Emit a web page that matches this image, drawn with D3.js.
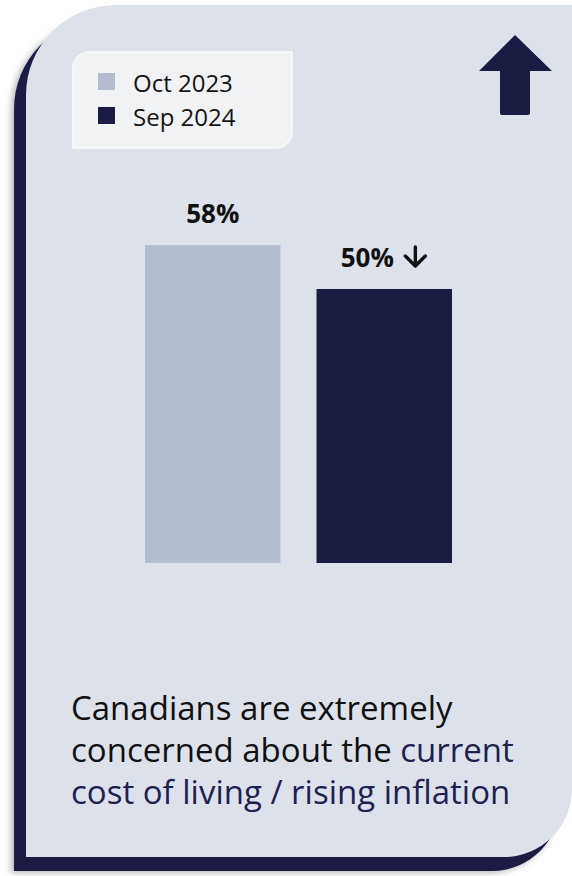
<!DOCTYPE html>
<html>
<head>
<meta charset="utf-8">
<script src="https://cdn.jsdelivr.net/npm/d3@7"></script>
<style>
  html, body { margin: 0; padding: 0; background: #ffffff; }
  svg { display: block; }
</style>
</head>
<body>
<svg id="chart" width="572" height="876"></svg>
<script>
// Survey waves and share of Canadians extremely concerned (%)
const periods = ["Oct 2023", "Sep 2024"];
const shares = [58, 50];
const valueLabels = ["58%", "50%"];
const changeDirections = [0, -1];
const barColors = ["#b4bdd0", "#1a1c42"];

const svg = d3.select("#chart");
const defs = svg.append("defs");

const shadow = defs.append("filter").attr("id", "soft").attr("x", "-10%").attr("y", "-10%").attr("width", "120%").attr("height", "120%");
shadow.append("feDropShadow").attr("dx", -3).attr("dy", 2).attr("stdDeviation", 3)
  .attr("flood-color", "#000").attr("flood-opacity", 0.28);

// Card outline: large rounded top-left and bottom-right corners
function cardPath(x0, y0, x1, y1, rTL, rBR) {
  const p = d3.path();
  p.moveTo(x0, y0 + rTL);
  p.arcTo(x0, y0, x0 + rTL, y0, rTL);
  p.lineTo(x1, y0);
  p.lineTo(x1, y1 - rBR);
  p.arcTo(x1, y1, x1 - rBR, y1, rBR);
  p.lineTo(x0, y1);
  p.closePath();
  return p.toString();
}

// navy backing, offset left and down
svg.append("path")
  .attr("d", cardPath(14, 19, 560, 871, 90, 68))
  .attr("fill", "#1a1c42")
  .attr("filter", "url(#soft)");

// light card face
svg.append("path")
  .attr("d", cardPath(26, 5, 572, 857, 90, 68))
  .attr("fill", "#dde1ea");

// Legend panel
svg.append("path")
  .attr("d", cardPath(73, 52, 292, 148, 16, 16))
  .attr("fill", "#f1f2f4")
  .attr("stroke", "#fbfbfc")
  .attr("stroke-width", 1.5);

const legend = svg.append("g").selectAll("g")
  .data(periods)
  .join("g")
  .attr("transform", (d, i) => `translate(98, ${73 + i * 34})`);
legend.append("rect")
  .attr("width", 17).attr("height", 17)
  .attr("fill", (d, i) => barColors[i]);
legend.append("text")
  .attr("x", 35).attr("y", 19)
  .attr("font-family", "'Open Sans', sans-serif")
  .attr("font-size", 24)
  .attr("fill", "#151515")
  .text(d => d);

// Trend arrow (top right)
const arrow = d3.path();
arrow.moveTo(515, 35);
arrow.lineTo(552, 71);
arrow.lineTo(530, 71);
arrow.lineTo(530, 113);
arrow.quadraticCurveTo(530, 115, 528, 115);
arrow.lineTo(502, 115);
arrow.quadraticCurveTo(500, 115, 500, 113);
arrow.lineTo(500, 71);
arrow.lineTo(479, 71);
arrow.closePath();
svg.append("path").attr("d", arrow.toString()).attr("fill", "#1a1c42");

// Bars
const x = d3.scaleBand()
  .domain(periods)
  .range([145, 452])
  .paddingInner(0.21)
  .paddingOuter(0);

const y = d3.scaleLinear()
  .domain([0, 100])
  .range([563, 15]);

const data = periods.map((p, i) => ({ period: p, value: shares[i], label: valueLabels[i], dir: changeDirections[i], color: barColors[i] }));

svg.append("g").selectAll("rect")
  .data(data)
  .join("rect")
  .attr("x", d => x(d.period))
  .attr("y", d => y(d.value))
  .attr("width", x.bandwidth())
  .attr("height", d => y(0) - y(d.value))
  .attr("fill", d => d.color);

// Value labels, with a change arrow beside the label when the value moved
const arrowW = 25, arrowGap = 9;
const labelG = svg.append("g").selectAll("g")
  .data(data)
  .join("g");
labelG.each(function (d) {
  const g = d3.select(this);
  const cx = x(d.period) + x.bandwidth() / 2;
  const base = y(d.value) - 22;
  const t = g.append("text")
    .attr("y", base)
    .attr("font-family", "'Open Sans', sans-serif")
    .attr("font-weight", 700)
    .attr("font-size", 26)
    .attr("fill", "#111111")
    .text(d.label);
  const tw = t.node().getComputedTextLength();
  const total = tw + (d.dir ? arrowGap + arrowW : 0);
  const x0 = cx - total / 2;
  t.attr("x", x0);
  if (d.dir) {
    const ax = x0 + tw + arrowGap + arrowW / 2;
    const top = base - 20, bot = base;
    g.append("path")
      .attr("d", `M${ax},${top} L${ax},${bot - 2} M${ax - 10},${bot - 11} L${ax},${bot - 1} L${ax + 10},${bot - 11}`)
      .attr("fill", "none")
      .attr("stroke", "#111111")
      .attr("stroke-width", 3.4)
      .attr("stroke-linecap", "round")
      .attr("stroke-linejoin", "round");
  }
});

// Caption
const captionLines = [
  [{ t: "Canadians are extremely", c: "#111111" }],
  [{ t: "concerned about the ", c: "#111111" }, { t: "current", c: "#1f2150" }],
  [{ t: "cost of living / rising inflation", c: "#1f2150" }]
];
const caption = svg.append("text")
  .attr("font-family", "'Open Sans', sans-serif")
  .attr("font-size", 33);
captionLines.forEach((line, i) => {
  line.forEach((seg, j) => {
    const ts = caption.append("tspan").attr("fill", seg.c).text(seg.t);
    if (j === 0) ts.attr("x", 71).attr("y", 720 + i * 42);
  });
});
</script>
</body>
</html>
